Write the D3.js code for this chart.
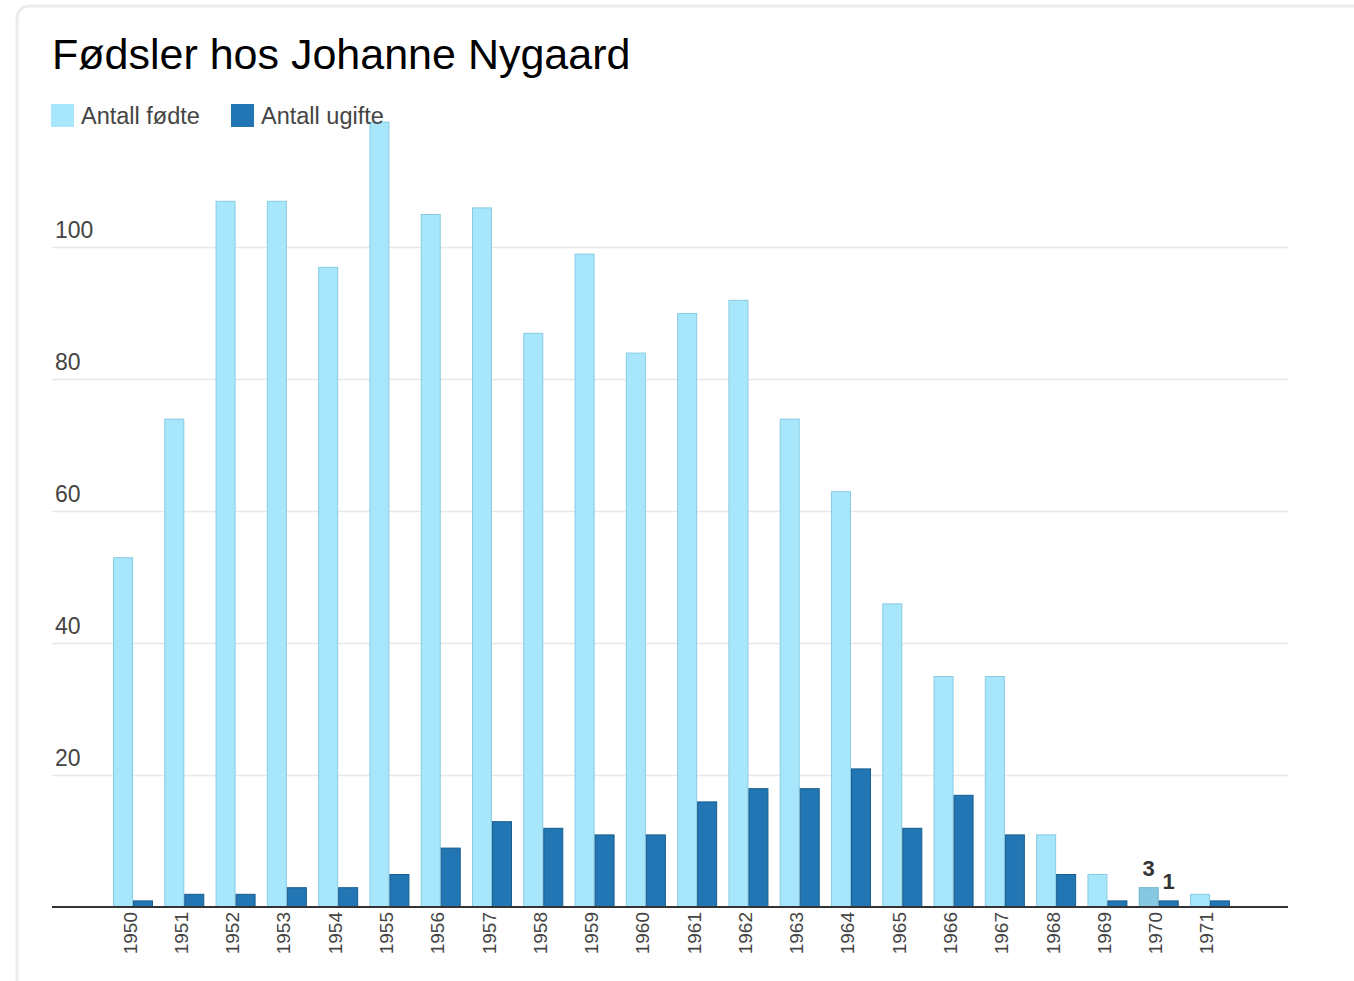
<!DOCTYPE html>
<html>
<head>
<meta charset="utf-8">
<script src="https://cdn.jsdelivr.net/npm/d3@7"></script>
<style>
  body { margin: 0; background: #fff; }
  text { font-family: Arial, "Liberation Sans", sans-serif; }
</style>
</head>
<body>
<div id="chart"></div>
<script>
const years = ["1950","1951","1952","1953","1954","1955","1956","1957","1958","1959","1960",
  "1961","1962","1963","1964","1965","1966","1967","1968","1969","1970","1971"]
const fodte = [53, 74, 107, 107, 97, 119, 105, 106, 87, 99, 84, 90, 92, 74, 63, 46, 35, 35, 11, 5, 3, 2]
const ugifte = [1, 2, 2, 3, 3, 5, 9, 13, 12, 11, 11, 16, 18, 18, 21, 12, 17, 11, 5, 1, 1, 1]
const yTicks = [20, 40, 60, 80, 100]
const seriesNames = ["Antall fødte", "Antall ugifte"]
const highlightYear = "1970"

const W = 1354, H = 981
const plot = { left: 52, right: 1288, top: 115, bottom: 907 }

const svg = d3.select("#chart").append("svg")
    .attr("width", W)
    .attr("height", H)

// card outline
svg.append("rect")
    .attr("x", 17).attr("y", 6)
    .attr("width", 1400).attr("height", 1100)
    .attr("rx", 12)
    .attr("fill", "#fff")
    .attr("stroke", "#ececec")
    .attr("stroke-width", 3)

svg.append("text")
    .attr("x", 52).attr("y", 69)
    .attr("font-size", 43)
    .attr("fill", "#000")
    .text("Fødsler hos Johanne Nygaard")

const y = d3.scaleLinear().domain([0, 120]).range([plot.bottom, plot.bottom - 120 * 6.6])

const x = d3.scaleBand().domain(years).range([113, 1230]).paddingInner(0.22).paddingOuter(0)
const xs = d3.scaleBand().domain([0, 1]).range([0, x.bandwidth()])

// grid
const grid = svg.append("g")
grid.selectAll("line").data(yTicks).join("line")
    .attr("x1", plot.left).attr("x2", plot.right)
    .attr("y1", d => y(d) + 0.5).attr("y2", d => y(d) + 0.5)
    .attr("stroke", "#e8e8e8")
    .attr("stroke-width", 1.5)
grid.selectAll("text").data(yTicks).join("text")
    .attr("x", 55)
    .attr("y", d => y(d) - 9)
    .attr("font-size", 23)
    .attr("fill", "#444")
    .text(d => d)

const fills = ["#a8e6fc", "#2176b3"]
const strokes = ["#88cbe4", "#185d8e"]

const groups = svg.append("g").selectAll("g").data(years).join("g")
    .attr("transform", d => `translate(${x(d)},0)`)

groups.selectAll("rect")
    .data((d, i) => [fodte[i], ugifte[i]].map((v, k) => ({ year: d, v, k })))
    .join("rect")
    .attr("x", d => xs(d.k) + 0.5)
    .attr("y", d => y(d.v) + 0.5)
    .attr("width", xs.bandwidth() - 1)
    .attr("height", d => y(0) - y(d.v) - 0.5)
    .attr("fill", d => d.year === highlightYear && d.k === 0 ? "#86c8df" : fills[d.k])
    .attr("stroke", d => d.year === highlightYear && d.k === 0 ? "#6fb3ca" : strokes[d.k])
    .attr("stroke-width", 1)

// values over the hovered year
const hi = years.indexOf(highlightYear)
svg.append("g").selectAll("text")
    .data([fodte[hi], ugifte[hi]])
    .join("text")
    .attr("x", (d, k) => x(highlightYear) + xs(k) + xs.bandwidth() / 2)
    .attr("y", d => y(d) - 11)
    .attr("text-anchor", "middle")
    .attr("font-size", 22)
    .attr("font-weight", "bold")
    .attr("fill", "#333")
    .text(d => d)

// baseline
svg.append("line")
    .attr("x1", plot.left).attr("x2", plot.right)
    .attr("y1", y(0)).attr("y2", y(0))
    .attr("stroke", "#333")
    .attr("stroke-width", 2)

// x labels
const xAxis = svg.append("g")
    .attr("transform", `translate(0,${plot.bottom})`)
    .call(d3.axisBottom(x).tickSize(0).tickPadding(0))
xAxis.select(".domain").remove()
xAxis.selectAll("text")
    .attr("font-size", 19)
    .attr("fill", "#444")
    .attr("text-anchor", "end")
    .attr("dy", null)
    .attr("y", 0)
    .attr("transform", "translate(-3,5) rotate(-90)")
    .attr("x", 0)
    .attr("dominant-baseline", "central")

// legend
const legend = svg.append("g").attr("transform", "translate(51,104)")
const li = legend.selectAll("g").data(seriesNames).join("g")
    .attr("transform", (d, i) => `translate(${i * 180},0)`)
li.append("rect")
    .attr("width", 23).attr("height", 23)
    .attr("fill", (d, i) => fills[i])
li.append("text")
    .attr("x", 30).attr("y", 20)
    .attr("font-size", 23.5)
    .attr("fill", "#444")
    .text(d => d)
</script>
</body>
</html>
